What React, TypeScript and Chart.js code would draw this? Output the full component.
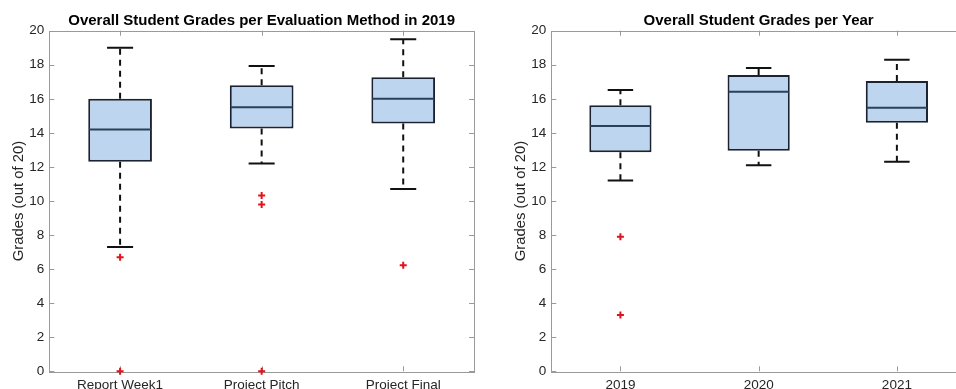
import React, { useEffect, useRef } from 'react';
import { Chart, registerables } from 'chart.js';

Chart.register(...registerables);

// ---------- Data: left chart (per evaluation method, 2019) ----------
const methodLabels = ['Report Week1', 'Project Pitch', 'Project Final'];
const methodLowerWhisker = [7.3, 12.2, 10.7];
const methodQ1 = [12.3, 14.25, 14.55];
const methodMedian = [14.2, 15.5, 16.0];
const methodQ3 = [16.0, 16.8, 17.27];
const methodUpperWhisker = [19.0, 17.93, 19.5];
const methodOutliers = [[6.7, 0], [10.33, 9.8, 0], [6.22]];

// ---------- Data: right chart (per year) ----------
const yearLabels = ['2019', '2020', '2021'];
const yearLowerWhisker = [11.2, 12.1, 12.3];
const yearQ1 = [12.86, 12.95, 14.6];
const yearMedian = [14.4, 16.42, 15.47];
const yearQ3 = [15.62, 17.4, 17.05];
const yearUpperWhisker = [16.52, 17.81, 18.3];
const yearOutliers = [[7.9, 3.3], [], []];

// ---------- Axis ----------
const yMin = 0;
const yMax = 20;
const yStep = 2;

const FONT = '"Liberation Sans", Arial, Helvetica, sans-serif';
const TEXT = '#262626';
const AXIS = '#9a9a9a';
const BOX_FILL = '#bdd5ef';
const BOX_EDGE = '#1c2330';
const MEDIAN = '#2b4159';
const WHISKER = '#111111';
const OUTLIER = '#e3121b';

type Stats = {
  lower: number[];
  q1: number[];
  median: number[];
  q3: number[];
  upper: number[];
};

function boxExtrasPlugin(stats: Stats) {
  return {
    id: 'boxExtras',
    beforeDatasetsDraw(chart: any) {
      const { ctx, chartArea, scales } = chart;
      const xs = scales.x;
      const ys = scales.y;
      ctx.save();
      // whiskers (dashed)
      ctx.strokeStyle = WHISKER;
      ctx.lineWidth = 2;
      ctx.setLineDash([6, 5]);
      for (let i = 0; i < stats.q1.length; i++) {
        const x = xs.getPixelForValue(i);
        ctx.beginPath();
        ctx.moveTo(x, ys.getPixelForValue(stats.q3[i]));
        ctx.lineTo(x, ys.getPixelForValue(stats.upper[i]));
        ctx.moveTo(x, ys.getPixelForValue(stats.q1[i]));
        ctx.lineTo(x, ys.getPixelForValue(stats.lower[i]));
        ctx.stroke();
      }
      ctx.setLineDash([]);
      // caps
      const unit = xs.getPixelForValue(1) - xs.getPixelForValue(0);
      const capHalf = unit * 0.092;
      for (let i = 0; i < stats.q1.length; i++) {
        const x = xs.getPixelForValue(i);
        ctx.beginPath();
        for (const v of [stats.upper[i], stats.lower[i]]) {
          const y = ys.getPixelForValue(v);
          ctx.moveTo(x - capHalf, y);
          ctx.lineTo(x + capHalf, y);
        }
        ctx.stroke();
      }
      // frame and inward ticks
      ctx.strokeStyle = AXIS;
      ctx.lineWidth = 1;
      const { left, right, top, bottom } = chartArea;
      ctx.strokeRect(Math.round(left) + 0.5, Math.round(top) + 0.5, Math.round(right - left), Math.round(bottom - top));
      ctx.beginPath();
      for (let v = yMin; v <= yMax; v += yStep) {
        const y = Math.round(ys.getPixelForValue(v)) + 0.5;
        ctx.moveTo(left, y);
        ctx.lineTo(left + 5, y);
        ctx.moveTo(right, y);
        ctx.lineTo(right - 5, y);
      }
      for (let i = 0; i < stats.q1.length; i++) {
        const x = Math.round(xs.getPixelForValue(i)) + 0.5;
        ctx.moveTo(x, bottom);
        ctx.lineTo(x, bottom - 5);
        ctx.moveTo(x, top);
        ctx.lineTo(x, top + 5);
      }
      ctx.stroke();
      ctx.restore();
    },
    afterDatasetsDraw(chart: any) {
      const { ctx } = chart;
      const meta = chart.getDatasetMeta(0);
      const ys = chart.scales.y;
      ctx.save();
      ctx.strokeStyle = MEDIAN;
      ctx.lineWidth = 2;
      ctx.beginPath();
      meta.data.forEach((bar: any, i: number) => {
        const y = ys.getPixelForValue(stats.median[i]);
        ctx.moveTo(bar.x - bar.width / 2 + 1, y);
        ctx.lineTo(bar.x + bar.width / 2 - 1, y);
      });
      ctx.stroke();
      ctx.restore();
    },
  };
}

function BoxChart(props: {
  title: string;
  labels: string[];
  stats: Stats;
  outliers: number[][];
  width: number;
  left: number;
  padRight: number;
}) {
  const ref = useRef<HTMLCanvasElement | null>(null);
  useEffect(() => {
    if (!ref.current) return;
    const { labels, stats, outliers, title, padRight } = props;
    const outlierData = outliers.flatMap((vals, i) => vals.map((v) => ({ x: labels[i], y: v })));
    const chart = new Chart(ref.current, {
      type: 'bar',
      data: {
        labels,
        datasets: [
          {
            type: 'bar',
            data: stats.q1.map((q, i) => [q, stats.q3[i]]) as any,
            backgroundColor: BOX_FILL,
            borderColor: BOX_EDGE,
            borderWidth: 2,
            borderSkipped: false,
            categoryPercentage: 1,
            barPercentage: 0.45,
            order: 2,
          } as any,
          {
            type: 'line',
            data: outlierData as any,
            showLine: false,
            pointStyle: 'cross',
            pointRadius: 3.5,
            pointBorderWidth: 2,
            pointBorderColor: OUTLIER,
            pointBackgroundColor: OUTLIER,
            clip: false,
            order: 1,
          } as any,
        ],
      },
      options: {
        responsive: false,
        animation: false,
        events: [],
        layout: { padding: { left: 0, right: padRight, top: 0, bottom: 0 } },
        plugins: {
          legend: { display: false },
          tooltip: { enabled: false },
          title: {
            display: true,
            text: title,
            fullSize: false,
            color: '#000',
            font: { family: FONT, size: 15, weight: 'bold', lineHeight: 1.2 },
            padding: { top: 11.8, bottom: 0.9 },
          },
        },
        scales: {
          x: {
            type: 'category',
            offset: true,
            grid: { display: false, drawTicks: false },
            border: { display: false },
            ticks: { color: TEXT, font: { family: FONT, size: 13.5 }, padding: 5.5, maxRotation: 0, autoSkip: false },
            afterFit: (s: any) => {
              s.height = 17.7;
              s.paddingLeft = 0;
              s.paddingRight = 0;
            },
          },
          y: {
            min: yMin,
            max: yMax,
            grid: { display: false, drawTicks: false },
            border: { display: false },
            ticks: { stepSize: yStep, color: TEXT, font: { family: FONT, size: 13.5 }, padding: 5 },
            title: {
              display: true,
              text: 'Grades (out of 20)',
              color: TEXT,
              font: { family: FONT, size: 14.85, lineHeight: 1.2 },
              padding: { top: 10.1, bottom: 0 },
            },
            afterFit: (s: any) => {
              s.width = 49.3;
              s.paddingLeft = 0;
              s.paddingRight = 0;
            },
          },
        },
      } as any,
      plugins: [boxExtrasPlugin(stats)],
    });
    return () => chart.destroy();
  }, []);
  return (
    <canvas
      ref={ref}
      width={props.width}
      height={389}
      style={{ position: 'absolute', left: props.left, top: 0, width: props.width, height: 389 }}
    />
  );
}

export default function App() {
  return (
    <div
      style={{
        position: 'fixed',
        left: 0,
        top: 0,
        width: 956,
        height: 389,
        overflow: 'hidden',
        background: '#ffffff',
      }}
    >
      <BoxChart
        title="Overall Student Grades per Evaluation Method in 2019"
        labels={methodLabels}
        stats={{
          lower: methodLowerWhisker,
          q1: methodQ1,
          median: methodMedian,
          q3: methodQ3,
          upper: methodUpperWhisker,
        }}
        outliers={methodOutliers}
        width={480}
        left={0}
        padRight={3.5}
      />
      <BoxChart
        title="Overall Student Grades per Year"
        labels={yearLabels}
        stats={{
          lower: yearLowerWhisker,
          q1: yearQ1,
          median: yearMedian,
          q3: yearQ3,
          upper: yearUpperWhisker,
        }}
        outliers={yearOutliers}
        width={470}
        left={502}
        padRight={3.5}
      />
    </div>
  );
}
